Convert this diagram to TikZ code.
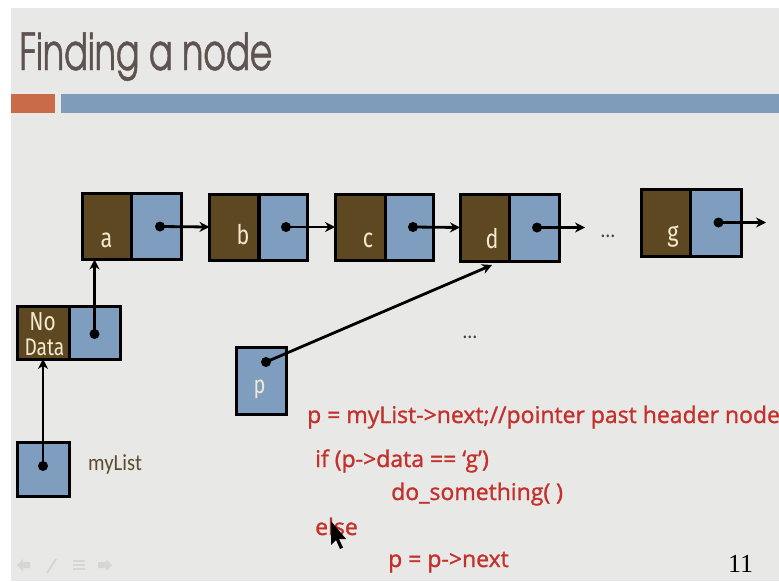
\documentclass[tikz,border=0pt]{standalone}
\usepackage{fontspec}
\usetikzlibrary{arrows.meta,calc}
\newfontfamily\gothic[FakeStretch=0.68,FakeBold=0.8]{texgyreadventor-regular.otf}
\newfontfamily\labelfont[FakeStretch=0.8]{Fira Sans}
\newfontfamily\listfont[FakeStretch=0.9]{Carlito}
\newfontfamily\codefont[FakeBold=1.2]{Open Sans}
\newfontfamily\numfont{Liberation Serif}

\definecolor{slidebg}{HTML}{E8E9E7}
\definecolor{titlegray}{HTML}{5E5350}
\definecolor{barorange}{HTML}{C96A48}
\definecolor{barblue}{HTML}{7F9DBA}
\definecolor{databrown}{HTML}{5E4821}
\definecolor{ptrblue}{HTML}{7F9EBF}
\definecolor{cream}{HTML}{F2E9CF}
\definecolor{codered}{HTML}{C4302B}
\definecolor{listbrown}{HTML}{5C4A2C}
\definecolor{navgray}{HTML}{D6D7D5}

\tikzset{
  cell/.style={draw=black, line width=3pt, inner sep=0pt, outer sep=0pt},
  datacell/.style={cell, fill=databrown},
  nextcell/.style={cell, fill=ptrblue},
  ptr/.style={line width=2.8pt, -{Stealth[length=10pt,width=10pt]}},
  dot/.style={fill=black},
  celllabel/.style={anchor=base, text=cream, inner sep=0pt, font=\labelfont\fontsize{27}{27}\selectfont},
  codeline/.style={anchor=base west, inner sep=0pt, text=codered, font=\codefont\fontsize{23}{23}\selectfont},
  ellipsis/.style={inner sep=0pt, text=black!75, font=\listfont\fontsize{22}{22}\selectfont},
}

\begin{document}
\begin{tikzpicture}[x=1pt,y=-1pt]
\useasboundingbox (0,0) rectangle (779,581);
% slide background and header bars
\fill[white] (0,0) rectangle (779,581);
\fill[slidebg] (11,8) rectangle (779,581);
\fill[barorange] (11,94) rectangle (55,113);
\fill[barblue] (61,94) rectangle (779,113);
\node[anchor=base west, inner sep=0pt, text=titlegray,
      font=\gothic\fontsize{51}{51}\selectfont] (title) at (19,70) {Finding a node};

% list nodes: data cell + next cell
\node[datacell, minimum width=49pt, minimum height=66pt] (aD) at (106.5,226.5) {};
\node[nextcell, minimum width=50pt, minimum height=66pt] (aN) at (156,226.5) {};
\node[datacell, minimum width=49pt, minimum height=66pt] (bD) at (234,227) {};
\node[nextcell, minimum width=48pt, minimum height=66pt] (bN) at (283,227) {};
\node[datacell, minimum width=50pt, minimum height=66pt] (cD) at (360,227) {};
\node[nextcell, minimum width=48pt, minimum height=66pt] (cN) at (409,227) {};
\node[datacell, minimum width=49pt, minimum height=67pt] (dD) at (484.5,227.5) {};
\node[nextcell, minimum width=50pt, minimum height=67pt] (dN) at (534,227.5) {};
\node[datacell, minimum width=49pt, minimum height=67pt] (gD) at (665.5,222.5) {};
\node[nextcell, minimum width=51pt, minimum height=67pt] (gN) at (715.5,222.5) {};

% header node
\node[datacell, minimum width=52pt, minimum height=53pt] (hD) at (43,332.5) {};
\node[nextcell, minimum width=51pt, minimum height=53pt] (hN) at (94.5,332.5) {};

% external pointers
\node[nextcell, minimum width=52pt, minimum height=54pt] (mL) at (43,469) {};
\node[nextcell, minimum width=50pt, minimum height=67pt] (pB) at (261,380.5) {};

% cell labels
\node[celllabel] (aL) at (106.5,247) {a};
\node[celllabel] (bL) at (243,244) {b};
\node[celllabel] (cL) at (368,247) {c};
\node[celllabel] (dL) at (492,248) {d};
\node[celllabel] (gL) at (673,241) {g};
\node[celllabel, font=\labelfont\fontsize{26}{26}\selectfont] (hL1) at (42.5,330) {No};
\node[celllabel, font=\labelfont\fontsize{24}{24}\selectfont] (hL2) at (44.5,355) {Data};
\node[celllabel, font=\labelfont\fontsize{25}{25}\selectfont] (pL) at (259.5,393) {p};
\node[anchor=base west, inner sep=0pt, text=listbrown,
      font=\listfont\fontsize{23}{23}\selectfont] (mT) at (88,470) {myList};

% pointer origins
\coordinate (aP) at ($(aN.center)+(4,0)$);
\coordinate (bP) at ($(bN.center)+(3,0)$);
\coordinate (cP) at ($(cN.center)+(4,0)$);
\coordinate (dP) at ($(dN.center)+(3,0)$);
\coordinate (gP) at ($(gN.center)+(3,0)$);
\coordinate (hP) at ($(hN.center)+(0,1.5)$);
\coordinate (mP) at ($(mL.center)+(0,-3)$);
\coordinate (pP) at ($(pB.center)+(5,-18.5)$);
\coordinate (dEnd) at ($(dN.east)+(26,0)$);
\coordinate (gEnd) at ($(gN.east)+(25,0)$);
\coordinate (dIn) at ($(dD.south)+(7.5,4)$);

% pointers
\draw[ptr] (aP) -- (bD.west);
\draw[ptr] (bP) -- (cD.west);
\draw[ptr] (cP) -- (dD.west);
\draw[ptr] (dP) -- (dEnd);
\draw[ptr] (gP) -- (gEnd);
\draw[ptr] (hP) -- (hP |- aD.south);
\draw[ptr] (mP) -- (mP |- hD.south);
\draw[ptr] (pP) -- (dIn);
\foreach \c in {aP,bP,cP,dP,gP,hP,mP,pP} \fill[dot] (\c) circle (5pt);

% ellipses
\node[ellipsis] (e1) at (608,236) {\dots};
\node[ellipsis] (e2) at (470,337) {\dots};

% code
\node[codeline] (c1) at (307,423) {p = myList->next;//pointer past header node};
\node[codeline] (c2) at (315,467) {if (p->data == ‘g’)};
\node[codeline] (c3) at (391,500) {do\_something( )};
\node[codeline] (c4) at (315,535) {else};
\node[codeline] (c5) at (388,567) {p = p->next};
\node[anchor=base west, inner sep=0pt, font=\numfont\fontsize{26}{26}\selectfont] (num) at (728,572) {11};

% mouse cursor
\fill[black] (331,521) -- ++(0,24) -- ++(5,-5) -- ++(4,9) -- ++(3,-1.5) -- ++(-4,-8.5) -- ++(7,0) -- cycle;

% navigation icons
\fill[navgray] (17,565) -- (23,559) -- (23,562) -- (30,562) -- (30,568) -- (23,568) -- (23,571) -- cycle;
\draw[navgray, line width=2pt] (47,573) -- (56,559);
\foreach \yy in {561,565,569} \draw[navgray, line width=2pt] (73,\yy) -- (85,\yy);
\fill[navgray] (112,565) -- (106,559) -- (106,562) -- (98,562) -- (98,568) -- (106,568) -- (106,571) -- cycle;
\end{tikzpicture}
\end{document}
